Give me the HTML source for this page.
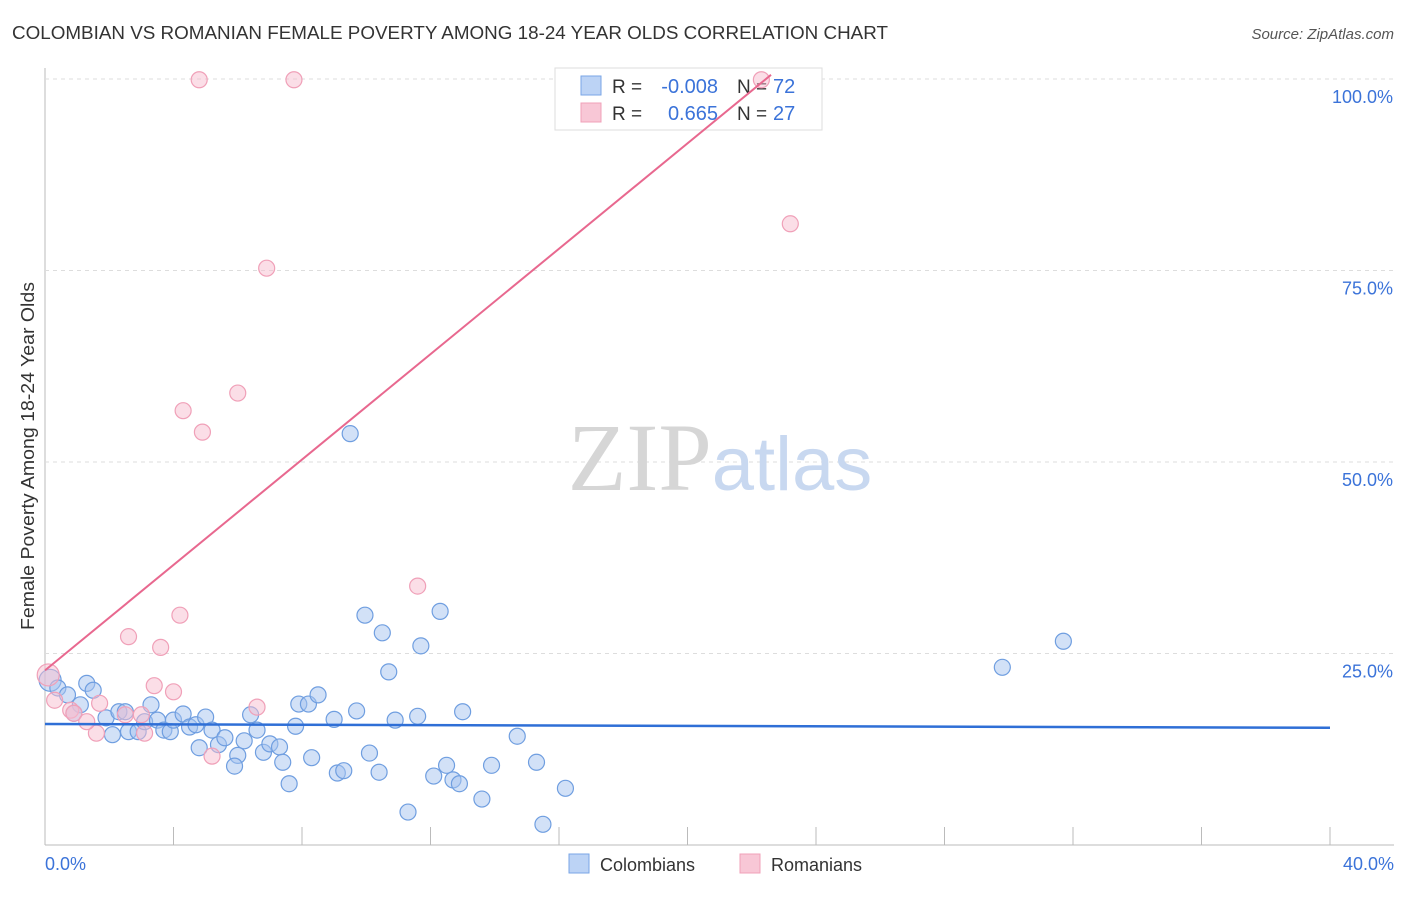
<!DOCTYPE html>
<html><head><meta charset="utf-8"><style>
body{margin:0;background:#fff;font-family:"Liberation Sans",sans-serif;}
svg text{font-family:"Liberation Sans",sans-serif;}
</style></head><body>
<svg id="chart" width="1406" height="892">
<text x="12" y="39" font-size="18" fill="#333" textLength="876" lengthAdjust="spacingAndGlyphs">COLOMBIAN VS ROMANIAN FEMALE POVERTY AMONG 18-24 YEAR OLDS CORRELATION CHART</text>
<text x="1394" y="39" font-size="15" fill="#555" text-anchor="end" font-style="italic">Source: ZipAtlas.com</text>
<text x="34" y="456" font-size="18" fill="#333" text-anchor="middle" textLength="348" lengthAdjust="spacingAndGlyphs" transform="rotate(-90 34 456)">Female Poverty Among 18-24 Year Olds</text>
<g id="grid"></g>
<text x="720" y="490" font-size="96" fill="#ddd" text-anchor="middle" font-family="Liberation Serif"><tspan fill="#d6d6d6" font-family="Liberation Serif">ZIP</tspan><tspan fill="#c8d8f0" font-size="76" font-family="Liberation Sans">atlas</tspan></text>
<g>
<rect x="555" y="68" width="267" height="62" fill="#fff" stroke="#ddd"/>
<rect x="581" y="76" width="20" height="19" fill="#bcd3f5" stroke="#7aa6e6"/>
<rect x="581" y="103" width="20" height="19" fill="#f8c7d6" stroke="#f0a0b8"/>
<text x="612" y="93" font-size="19" fill="#333">R =</text>
<text x="718" y="93" font-size="20" fill="#3b73d9" text-anchor="end">-0.008</text>
<text x="737" y="93" font-size="19" fill="#333">N =</text>
<text x="773" y="93" font-size="20" fill="#3b73d9">72</text>
<text x="612" y="120" font-size="19" fill="#333">R =</text>
<text x="718" y="120" font-size="20" fill="#3b73d9" text-anchor="end">0.665</text>
<text x="737" y="120" font-size="19" fill="#333">N =</text>
<text x="773" y="120" font-size="20" fill="#3b73d9">27</text>
</g>
<g id="marks"></g>
<g>
<rect x="569" y="854" width="20" height="19" fill="#bcd3f5" stroke="#7aa6e6"/>
<text x="600" y="871" font-size="18" fill="#333">Colombians</text>
<rect x="740" y="854" width="20" height="19" fill="#f8c7d6" stroke="#f0a0b8"/>
<text x="771" y="871" font-size="18" fill="#333">Romanians</text>
</g>
</svg>
<script>
const xTicks=[0,4,8,12,16,20,24,28,32,36,40];
const yTicks=[25,50,75,100];
const yTickLabels=["25.0%","50.0%","75.0%","100.0%"];
const blueX=[0.16,0.4,0.7,1.3,1.5,1.1,0.9,1.9,2.3,2.5,2.1,2.6,2.9,3.3,3.1,3.5,3.7,3.9,4.0,4.3,4.5,4.7,5.0,5.2,4.8,5.4,5.6,6.0,5.9,6.2,6.4,6.6,6.8,7.0,7.3,7.4,7.6,7.8,7.9,8.2,8.5,8.3,9.0,9.1,9.3,9.5,9.7,9.96,10.1,10.4,10.5,10.7,10.9,11.3,11.6,11.7,12.1,12.3,12.5,12.7,12.9,13.0,13.6,13.9,14.7,15.3,15.5,16.2,29.8,31.7];
const blueY=[21.5,20.5,19.6,21.1,20.2,18.3,17.2,16.6,17.4,17.4,14.4,14.8,14.8,18.3,16.1,16.3,15.0,14.8,16.3,17.1,15.4,15.7,16.7,15.0,12.7,13.1,14.0,11.7,10.3,13.6,17.0,15.0,12.1,13.2,12.8,10.8,8.0,15.5,18.4,18.4,19.6,11.4,16.4,9.4,9.7,53.7,17.5,30.0,12.0,9.5,27.7,22.6,16.3,4.3,16.8,26.0,9.0,30.5,10.4,8.5,8.0,17.4,6.0,10.4,14.2,10.8,2.7,7.4,23.2,26.6];
const pinkX=[0.1,0.3,0.8,0.9,1.6,1.3,1.7,2.6,2.5,3.0,3.1,3.4,3.6,4.0,4.2,4.3,4.8,4.9,5.2,6.0,6.6,6.9,7.75,11.6,22.3,23.2];
const pinkY=[22.2,18.9,17.6,17.2,14.6,16.1,18.5,27.2,17.0,17.0,14.6,20.8,25.8,20.0,30.0,56.7,99.9,53.9,11.6,59.0,18.0,75.3,99.9,33.8,99.9,81.1];
const blueTrend=[15.8,15.3];
const pinkTrend=[22.8,3.44];
const sx=v=>45+v*32.125, sy=v=>845-v*7.66;
const NS="http://www.w3.org/2000/svg";
const grid=document.getElementById('grid'), marks=document.getElementById('marks');
function mk(tag,attrs,parent){const e=document.createElementNS(NS,tag);for(const k in attrs)e.setAttribute(k,attrs[k]);parent.appendChild(e);return e;}
let e=mk('line',{x1:45,y1:68,x2:45,y2:845,stroke:'#bbb'},grid);


e=mk('line',{x1:45,y1:845,x2:1394,y2:845,stroke:'#bbb'},grid);


yTicks.forEach((t,i)=>{
 e=mk('line',{x1:45,y1:sy(t),x2:1394,y2:sy(t),stroke:'#ddd','stroke-dasharray':'4,4'},grid);
 
 
 e=mk('text',{x:1393,y:sy(t)+24,'font-size':18,fill:'#3b73d9','text-anchor':'end'},grid);
 e.textContent=yTickLabels[i];
 
 
});
xTicks.forEach(t=>{
 e=mk('line',{x1:sx(t),y1:827,x2:sx(t),y2:845,stroke:'#bbb'},grid);
 
 
});
e=mk('text',{x:45,y:870,'font-size':18,fill:'#3b73d9'},grid);e.textContent='0.0%';


e=mk('text',{x:1394,y:870,'font-size':18,fill:'#3b73d9','text-anchor':'end'},grid);e.textContent='40.0%';


blueX.forEach((x,i)=>{
 e=mk('circle',{cx:sx(x),cy:sy(blueY[i]),r:i==0?11:8,fill:'rgba(165,195,240,0.5)',stroke:'#6f9ee0','stroke-width':1.2},marks);
 
 
});
pinkX.forEach((x,i)=>{
 e=mk('circle',{cx:sx(x),cy:sy(pinkY[i]),r:i==0?11:8,fill:'rgba(248,190,208,0.5)',stroke:'#f0a0b8','stroke-width':1.2},marks);
 
 
});
e=mk('line',{x1:sx(0),y1:sy(blueTrend[0]),x2:sx(40),y2:sy(blueTrend[1]),stroke:'#2f6fd6','stroke-width':2.5},marks);


const px2=22.6;
e=mk('line',{x1:sx(0),y1:sy(pinkTrend[0]),x2:sx(px2),y2:sy(pinkTrend[0]+pinkTrend[1]*px2),stroke:'#e8688f','stroke-width':2},marks);


</script>
</body></html>
